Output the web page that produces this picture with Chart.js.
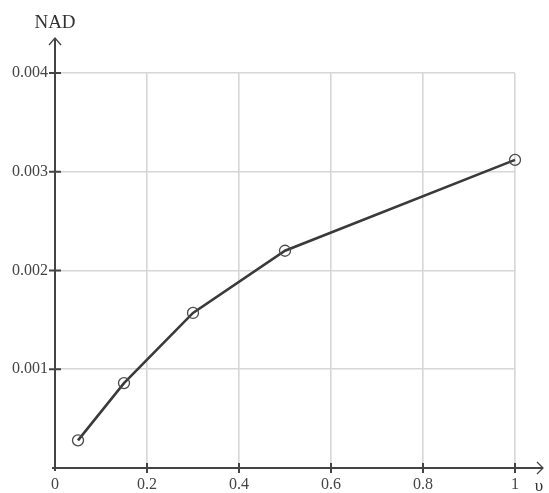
<!DOCTYPE html>
<html>
<head>
<meta charset="utf-8">
<script src="https://cdn.jsdelivr.net/npm/chart.js@4"></script>
<style>
html,body{margin:0;padding:0;background:#fff;}
#wrap{width:549px;height:493px;position:relative;}
</style>
</head>
<body>
<div id="wrap"><canvas id="c" width="549" height="493"></canvas></div>
<script>
const xValues = [0.05, 0.15, 0.3, 0.5, 1.0];
const nadValues = [0.00028, 0.00086, 0.00157, 0.0022, 0.00312];
const xTickLabels = ['0', '0.2', '0.4', '0.6', '0.8', '1'];
const yTickLabels = ['', '0.001', '0.002', '0.003', '0.004'];
const yTitle = 'NAD';
const xTitle = 'υ';

const FONT = "'Liberation Serif', 'Times New Roman', serif";
const AXIS = '#444';

const axesPlugin = {
  id: 'axesArrows',
  afterDraw(chart) {
    const ctx = chart.ctx;
    const xs = chart.scales.x, ys = chart.scales.y;
    const x0 = xs.getPixelForValue(0), y0 = ys.getPixelForValue(0);
    const xEnd = chart.width - 6, yTop = ys.getPixelForValue(0.004) - 35;
    ctx.save();
    ctx.strokeStyle = AXIS;
    ctx.lineWidth = 2;
    ctx.beginPath();
    ctx.moveTo(x0 - 3, y0); ctx.lineTo(xEnd, y0);
    ctx.moveTo(x0, y0 + 3); ctx.lineTo(x0, yTop);
    ctx.stroke();
    ctx.lineWidth = 1.3;
    ctx.beginPath();
    ctx.moveTo(xEnd - 6, y0 - 6); ctx.lineTo(xEnd, y0); ctx.lineTo(xEnd - 6, y0 + 6);
    ctx.moveTo(x0 - 6, yTop + 7); ctx.lineTo(x0, yTop); ctx.lineTo(x0 + 6, yTop + 7);
    ctx.stroke();
    ctx.lineWidth = 2;
    ctx.beginPath();
    xs.ticks.forEach(t => { const p = xs.getPixelForValue(t.value); if (t.value > 0) { ctx.moveTo(p, y0 - 5); ctx.lineTo(p, y0 + 5); } });
    ys.ticks.forEach(t => { const p = ys.getPixelForValue(t.value); if (t.value > 0) { ctx.moveTo(x0 - 6, p); ctx.lineTo(x0 + 6, p); } });
    ctx.stroke();
    ctx.fillStyle = '#333';
    ctx.font = '19px ' + FONT;
    ctx.textAlign = 'center';
    ctx.textBaseline = 'alphabetic';
    ctx.fillText(yTitle, x0, yTop - 10);
    ctx.font = '17px ' + FONT;
    ctx.fillText(xTitle, xEnd - 4, y0 + 23);
    ctx.restore();
  }
};

new Chart(document.getElementById('c'), {
  type: 'scatter',
  data: {
    datasets: [{
      data: xValues.map((x, i) => ({x: x, y: nadValues[i]})),
      showLine: true,
      clip: false,
      borderColor: '#3a3a3a',
      borderWidth: 2.6,
      tension: 0,
      pointRadius: 5.5,
      pointHoverRadius: 5.5,
      pointBorderWidth: 1.3,
      pointBorderColor: '#4a4a4a',
      pointBackgroundColor: 'rgba(255,255,255,0)'
    }]
  },
  options: {
    responsive: false,
    animation: false,
    events: [],
    layout: { padding: { left: 0, right: 34, top: 73, bottom: 0 } },
    plugins: { legend: { display: false }, tooltip: { enabled: false } },
    scales: {
      x: {
        type: 'linear', min: 0, max: 1,
        afterFit: s => { s.height = 25; },
        border: { display: false },
        grid: { color: '#d6d6d6', lineWidth: 1.6, drawTicks: false },
        ticks: {
          stepSize: 0.2, padding: 7, color: '#444',
          font: { family: FONT, size: 16 },
          callback: (v, i) => xTickLabels[i]
        }
      },
      y: {
        type: 'linear', min: 0, max: 0.004,
        afterFit: s => { s.width = 55; },
        border: { display: false },
        grid: { color: '#d6d6d6', lineWidth: 1.6, drawTicks: false },
        ticks: {
          stepSize: 0.001, padding: 7, color: '#444',
          font: { family: FONT, size: 16 },
          callback: (v, i) => yTickLabels[i]
        }
      }
    }
  },
  plugins: [axesPlugin]
});
</script>
</body>
</html>
